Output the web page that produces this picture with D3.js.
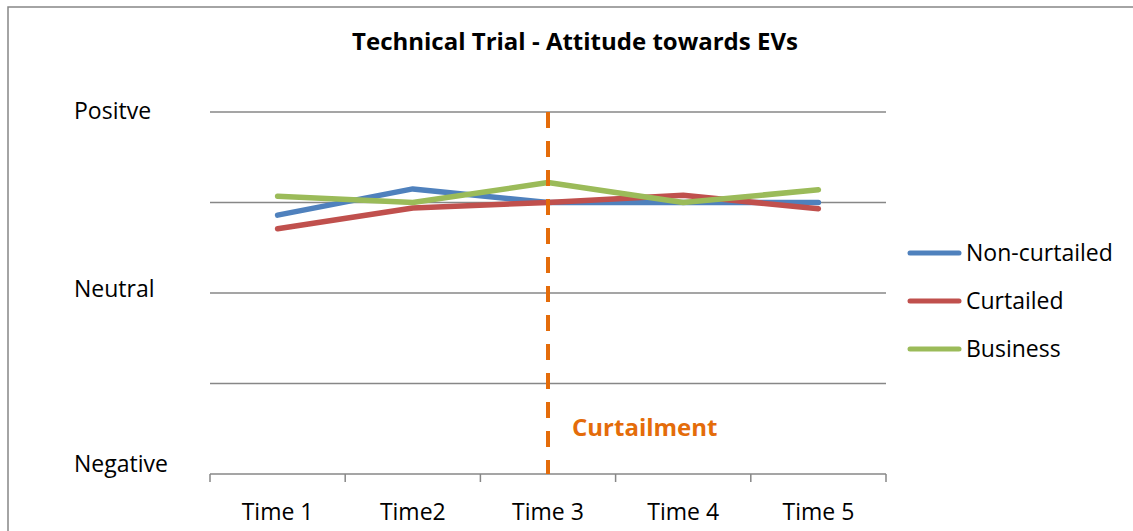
<!DOCTYPE html>
<html>
<head>
<meta charset="utf-8">
<script src="https://cdn.jsdelivr.net/npm/d3@7"></script>
<style>
  html, body { margin: 0; padding: 0; background: #fff; }
  svg { display: block; font-family: "Open Sans", sans-serif; }
</style>
</head>
<body>
<svg id="chart" width="1133" height="531"></svg>
<script>
// Data
const categories = ['Time 1', 'Time2', 'Time 3', 'Time 4', 'Time 5'];
const seriesNames = ['Non-curtailed', 'Curtailed', 'Business'];
const nonCurtailed = [3.86, 4.15, 4.0, 4.0, 4.0];
const curtailed = [3.71, 3.94, 4.0, 4.08, 3.93];
const business = [4.07, 4.0, 4.22, 4.0, 4.14];
const yLabels = ['Negative', 'Neutral', 'Positve'];
const yLabelValues = [1, 3, 5];
const gridValues = [2, 3, 4, 5];
const markerCategory = 'Time 3';
const markerText = 'Curtailment';
const title = 'Technical Trial - Attitude towards EVs';

const colors = ['#4F81BD', '#C0504D', '#9BBB59'];
const seriesValues = [nonCurtailed, curtailed, business];

const svg = d3.select('#chart');

// outer chart border (only top and left edges fall inside the window)
svg.append('rect')
  .attr('x', 8).attr('y', 7)
  .attr('width', 1300).attr('height', 700)
  .attr('fill', 'none')
  .attr('stroke', '#878787')
  .attr('stroke-width', 1.5);

// Scales
const x = d3.scaleBand().domain(categories).range([210, 886]);
const y = d3.scaleLinear().domain([1, 5]).range([474, 112]);
const cx = d => x(d) + x.bandwidth() / 2;

// Title
svg.append('text')
  .attr('x', 575).attr('y', 50)
  .attr('text-anchor', 'middle')
  .attr('font-size', 24)
  .attr('font-weight', 'bold')
  .attr('fill', '#000')
  .text(title);

// Gridlines
svg.append('g')
  .selectAll('line')
  .data(gridValues)
  .enter()
  .append('line')
  .attr('x1', 210).attr('x2', 886)
  .attr('y1', d => y(d)).attr('y2', d => y(d))
  .attr('stroke', '#878787')
  .attr('stroke-width', 1.5);

// X axis with ticks at band edges
const xAxis = svg.append('g').attr('transform', `translate(0,${y(1)})`);
xAxis.append('line')
  .attr('x1', 210).attr('x2', 886)
  .attr('stroke', '#878787').attr('stroke-width', 1.5);
const edges = categories.map(c => x(c)).concat([x.range()[1]]);
xAxis.selectAll('.tick')
  .data(edges)
  .enter()
  .append('line')
  .attr('x1', d => d).attr('x2', d => d)
  .attr('y1', 0).attr('y2', 8)
  .attr('stroke', '#878787').attr('stroke-width', 1.5);
xAxis.selectAll('.label')
  .data(categories)
  .enter()
  .append('text')
  .attr('x', d => cx(d))
  .attr('y', 46)
  .attr('text-anchor', 'middle')
  .attr('font-size', 23)
  .attr('fill', '#000')
  .text(d => d);

// Y labels (left aligned, nudged like the original)
const yNudge = [-2.3, 3.7, 7.3];
svg.append('g')
  .selectAll('text')
  .data(yLabels)
  .enter()
  .append('text')
  .attr('x', 74)
  .attr('y', (d, i) => y(yLabelValues[i]) + yNudge[i])
  .attr('font-size', 23)
  .attr('fill', '#000')
  .text(d => d);

// Series lines
const line = d3.line()
  .x((d, i) => cx(categories[i]))
  .y(d => y(d));

svg.append('g')
  .selectAll('path')
  .data(seriesValues)
  .enter()
  .append('path')
  .attr('d', d => line(d))
  .attr('fill', 'none')
  .attr('stroke', (d, i) => colors[i])
  .attr('stroke-width', 5.5)
  .attr('stroke-linecap', 'round')
  .attr('stroke-linejoin', 'round');

// Curtailment marker
svg.append('line')
  .attr('x1', cx(markerCategory)).attr('x2', cx(markerCategory))
  .attr('y1', y(5)).attr('y2', y(1))
  .attr('stroke', '#E46C0A')
  .attr('stroke-width', 4)
  .attr('stroke-dasharray', '16,13');

svg.append('text')
  .attr('x', cx(markerCategory) + 24)
  .attr('y', 436)
  .attr('font-size', 24)
  .attr('font-weight', 'bold')
  .attr('fill', '#E46C0A')
  .text(markerText);

// Legend
const legend = svg.append('g')
  .selectAll('g')
  .data(seriesNames)
  .enter()
  .append('g')
  .attr('transform', (d, i) => `translate(907,${253 + i * 48})`);
legend.append('line')
  .attr('x1', 3).attr('x2', 52)
  .attr('stroke', (d, i) => colors[i])
  .attr('stroke-width', 5)
  .attr('stroke-linecap', 'round');
legend.append('text')
  .attr('x', 59)
  .attr('y', 8)
  .attr('font-size', 23)
  .attr('fill', '#000')
  .text(d => d);
</script>
</body>
</html>
